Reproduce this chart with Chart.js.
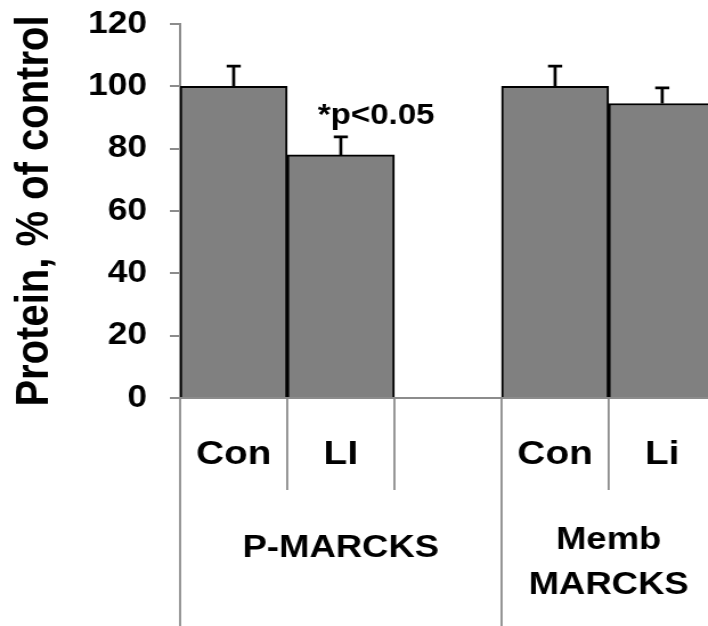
<!DOCTYPE html>
<html>
<head>
<meta charset="utf-8">
<script src="https://cdn.jsdelivr.net/npm/chart.js@4.4.1/dist/chart.umd.min.js"></script>
<style>
  html, body { margin: 0; padding: 0; background: #fff; overflow: hidden; }
  /* the figure is set in a slightly widened face: draw narrow, stretch horizontally */
  #wrap { position: relative; width: 632px; height: 626px; transform: scaleX(1.14); transform-origin: 0 0; }
</style>
</head>
<body>
<div id="wrap"><canvas id="chart"></canvas></div>
<script>
// Protein levels (% of control) with upward SEM bars
const categories = ['Con', 'LI', '', 'Con', 'Li'];
const proteinPct = [100, 78, null, 100, 94.5];
const semPct = [6.5, 5.8, null, 6.5, 5.0];
const yTicks = [0, 20, 40, 60, 80, 100, 120];
const groups = [
  { lines: ['P-MARCKS'], from: 0, to: 2 },
  { lines: ['Memb', 'MARCKS'], from: 3, to: 4 }
];
const sigLabel = '*p<0.05';
const sigIndex = 1;

const FONT = '"Liberation Sans", Arial, Helvetica, sans-serif';
const AXIS_GREY = '#8c8c8c';
const CAPTION_DY = [150, 165];   // caption centre below the baseline, per group

// Error bars, significance note and category separators below the axis
const extras = {
  id: 'extras',
  afterDatasetsDraw(chart) {
    const { ctx } = chart;
    const y = chart.scales.y;
    const meta = chart.getDatasetMeta(0);
    ctx.save();
    ctx.strokeStyle = '#000';
    ctx.lineWidth = 2.7;
    proteinPct.forEach((v, i) => {
      if (v == null || semPct[i] == null) return;
      const cx = meta.data[i].x;
      const yTop = y.getPixelForValue(v + semPct[i]);
      const yBar = y.getPixelForValue(v);
      ctx.beginPath();
      ctx.moveTo(cx, yBar);
      ctx.lineTo(cx, yTop);
      ctx.moveTo(cx - 6.2, yTop);
      ctx.lineTo(cx + 6.2, yTop);
      ctx.stroke();
    });
    // significance note beside the LI error bar
    const sx = meta.data[sigIndex].x + 31;
    const sy = y.getPixelForValue(proteinPct[sigIndex] + semPct[sigIndex]) - 13;
    ctx.fillStyle = '#000';
    ctx.font = 'bold 29px ' + FONT;
    ctx.textAlign = 'center';
    ctx.textBaseline = 'alphabetic';
    ctx.fillText(sigLabel, sx, sy);
    ctx.restore();
  },
  afterDraw(chart) {
    const { ctx, chartArea } = chart;
    const x = chart.scales.x;
    const n = categories.length;
    const slot = (chartArea.right - chartArea.left) / n;
    const base = chartArea.bottom;
    const groupEdges = new Set([0, 3, 5]);
    ctx.save();
    ctx.strokeStyle = AXIS_GREY;
    ctx.lineWidth = 1.8;
    for (let i = 0; i <= n; i++) {
      const bx = x.getPixelForValue(0) - slot / 2 + i * slot;
      ctx.beginPath();
      ctx.moveTo(bx, base);
      ctx.lineTo(bx, groupEdges.has(i) ? chart.height : base + 92);
      ctx.stroke();
    }
    // group captions
    ctx.fillStyle = '#000';
    ctx.font = 'bold 32px ' + FONT;
    ctx.textAlign = 'center';
    ctx.textBaseline = 'middle';
    groups.forEach((g, gi) => {
      const gx = (x.getPixelForValue(g.from) + x.getPixelForValue(g.to)) / 2;
      const lh = 45;
      const y0 = base + CAPTION_DY[gi] - (g.lines.length - 1) * lh / 2;
      g.lines.forEach((t, k) => ctx.fillText(t, gx, y0 + k * lh));
    });
    ctx.restore();
  }
};

new Chart(document.getElementById('chart'), {
  type: 'bar',
  data: {
    labels: categories,
    datasets: [{
      data: proteinPct,
      backgroundColor: '#808080',
      borderColor: '#000',
      borderWidth: 2,
      categoryPercentage: 1,
      barPercentage: 1
    }]
  },
  options: {
    responsive: true,
    maintainAspectRatio: false,
    animation: false,
    layout: { padding: { top: 24, right: 0, bottom: 0, left: 0 } },
    plugins: { legend: { display: false }, tooltip: { enabled: false } },
    scales: {
      x: {
        grid: { display: false, drawTicks: false },
        border: { display: true, color: AXIS_GREY, width: 2 },
        ticks: {
          color: '#000',
          font: { family: FONT, size: 34, weight: 'bold' },
          padding: 36,
          maxRotation: 0,
          autoSkip: false
        },
        afterFit(scale) { scale.height = 228; }
      },
      y: {
        min: 0,
        max: 120,
        afterBuildTicks(scale) { scale.ticks = yTicks.map(v => ({ value: v })); },
        grid: { drawOnChartArea: false, drawTicks: true, tickLength: 9, color: AXIS_GREY, lineWidth: 2 },
        border: { display: true, color: AXIS_GREY, width: 2 },
        ticks: {
          color: '#000',
          font: { family: FONT, size: 31, weight: 'bold' },
          padding: 20
        },
        title: {
          display: true,
          text: 'Protein, % of control',
          color: '#000',
          font: { family: FONT, size: 40, weight: 'bold' },
          padding: { top: 7, bottom: 0 }
        },
        afterFit(scale) {
          scale.width = 158;
          scale.paddingTop = 0;
          scale.paddingBottom = 0;
        }
      }
    }
  },
  plugins: [extras]
});
</script>
</body>
</html>
